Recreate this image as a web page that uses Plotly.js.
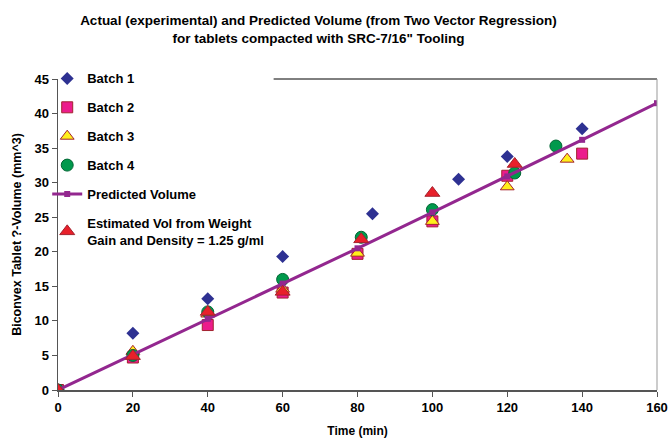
<!DOCTYPE html>
<html><head><meta charset="utf-8">
<script src="https://cdn.plot.ly/plotly-3.0.1.min.js"></script>
<style>html,body{margin:0;padding:0;background:#fff}</style>
</head><body><div id="chart" style="width:669px;height:439px"></div>
<script>
const batch1X = [0, 20, 40, 60, 84, 107, 120, 140];
const batch1Y = [0, 8.2, 13.2, 19.3, 25.5, 30.5, 33.8, 37.8];
const batch2X = [0, 20, 40, 60, 80, 100, 120, 140];
const batch2Y = [0, 4.7, 9.4, 14.1, 19.7, 24.4, 31.0, 34.2];
const batch3X = [0, 20, 40, 60, 80, 100, 120, 136];
const batch3Y = [0, 5.6, 11.0, 14.6, 19.8, 24.4, 29.4, 33.4];
const batch4X = [0, 20, 40, 60, 81, 100, 122, 133];
const batch4Y = [0, 5.0, 11.3, 16.0, 22.1, 26.1, 31.4, 35.3];
const predX = [0, 20, 40, 60, 80, 100, 120, 140, 160];
const predY = [0, 5.1, 10.3, 15.4, 20.5, 25.7, 30.9, 36.2, 41.5];
const estX = [0, 20, 40, 60, 81, 100, 122];
const estY = [0, 4.9, 11.3, 14.2, 21.8, 28.5, 32.7];
const xTicks = [0, 20, 40, 60, 80, 100, 120, 140, 160];
const yTicks = [0, 5, 10, 15, 20, 25, 30, 35, 40, 45];

const names = ['Batch 1','Batch 2','Batch 3','Batch 4','Predicted Volume','Estimated Vol from Weight<br>Gain and Density = 1.25 g/ml'];

const traces = [
  {x: batch1X, y: batch1Y, name: names[0], mode: 'markers', type: 'scatter',
   marker: {symbol: 'diamond', size: 10, color: '#2E3192', line: {width: 0}}},
  {x: batch2X, y: batch2Y, name: names[1], mode: 'markers', type: 'scatter',
   marker: {symbol: 'square', size: 11, color: '#EC1C8C', line: {width: 1, color: '#A3232F'}}},
  {x: batch3X, y: batch3Y, name: names[2], mode: 'markers', type: 'scatter',
   marker: {symbol: 'triangle-up', size: 12, color: '#FFEF1A', line: {width: 1, color: '#A3232F'}}},
  {x: batch4X, y: batch4Y, name: names[3], mode: 'markers', type: 'scatter',
   marker: {symbol: 'circle', size: 12, color: '#00994C', line: {width: 1, color: '#006633'}}},
  {x: predX, y: predY, name: names[4], mode: 'lines+markers', type: 'scatter',
   line: {color: '#93278F', width: 3}, marker: {symbol: 'square', size: 6, color: '#93278F'}},
  {x: estX, y: estY, name: names[5], mode: 'markers', type: 'scatter',
   marker: {symbol: 'triangle-up', size: 13, color: '#E8202A', line: {width: 1, color: '#A3232F'}}}
];
traces.forEach((t, i) => { t.legendgroup = 'g' + i; });

const fam = 'Liberation Sans, Arial, sans-serif';
const layout = {
  width: 669, height: 439,
  margin: {l: 58, r: 12, t: 79, b: 49},
  paper_bgcolor: '#fff', plot_bgcolor: '#fff',
  font: {family: fam, color: '#000'},
  title: {text: '<b>Actual (experimental) and Predicted Volume (from Two Vector Regression)<br>for tablets compacted with SRC-7/16" Tooling</b>',
          font: {size: 13.5, color: '#000', family: fam}, x: 0.476, xanchor: 'center', y: 0.943, yanchor: 'top'},
  xaxis: {range: [0, 160], tickvals: xTicks, ticktext: xTicks.map(String), showgrid: false, zeroline: false,
          showline: true, linecolor: '#555', linewidth: 1.5, ticks: 'outside', ticklen: 5, tickcolor: '#555',
          tickfont: {size: 13, family: fam, weight: 'bold'},
          title: {text: '<b>Time (min)</b>', font: {size: 12}, standoff: 12}},
  yaxis: {range: [0, 45], tickvals: yTicks, ticktext: yTicks.map(String), showgrid: false, zeroline: false,
          showline: true, linecolor: '#555', linewidth: 1.5, ticks: 'outside', ticklen: 5, tickcolor: '#555',
          tickfont: {size: 13, family: fam, weight: 'bold'},
          title: {text: '<b>Biconvex Tablet ?-Volume (mm^3)</b>', font: {size: 12.5}, standoff: 10}},
  legend: {x: -0.018, xanchor: 'left', y: 1.05, yanchor: 'top', bgcolor: 'rgba(0,0,0,0)', borderwidth: 0,
           traceorder: 'grouped', tracegroupgap: 9, itemwidth: 30,
           font: {size: 13, family: fam, weight: 'bold', color: '#000'}},
  shapes: [
    {type: 'line', xref: 'paper', yref: 'paper', x0: 0.36, x1: 1, y0: 1, y1: 1, line: {color: '#000', width: 1}},
    {type: 'line', xref: 'paper', yref: 'paper', x0: 1, x1: 1, y0: 0, y1: 1, line: {color: '#999', width: 1}}
  ],
  showlegend: true
};
Plotly.newPlot('chart', traces, layout, {displayModeBar: false, staticPlot: true});
</script></body></html>
